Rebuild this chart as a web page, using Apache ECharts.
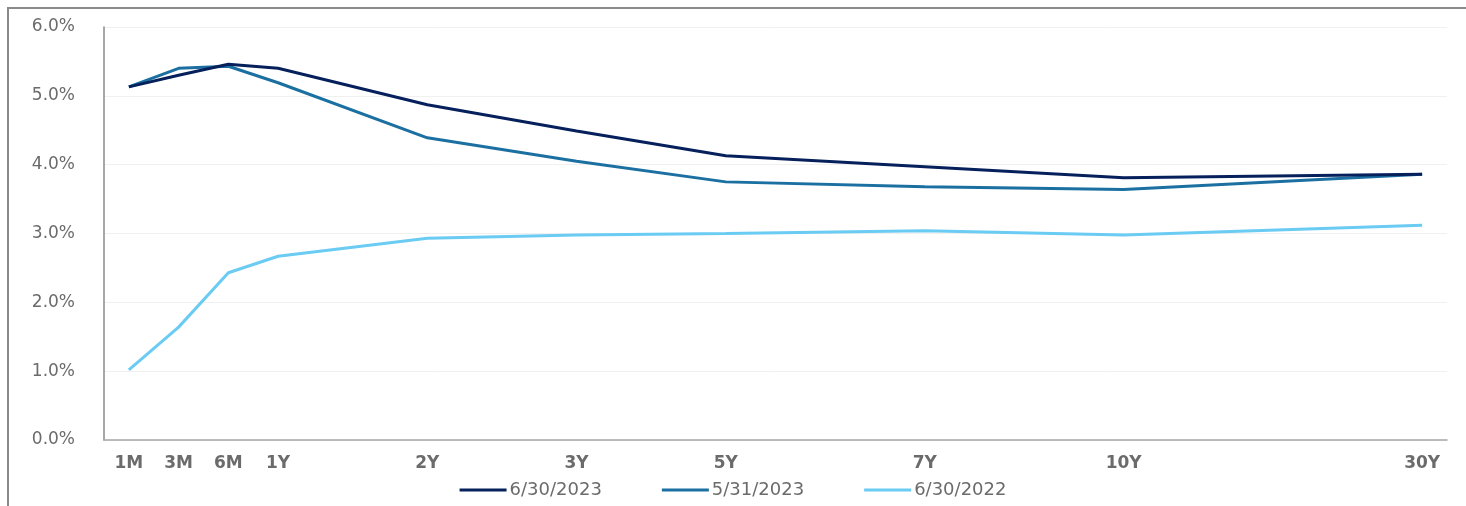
<!DOCTYPE html>
<html>
<head>
<meta charset="utf-8">
<script src="https://cdn.jsdelivr.net/npm/echarts@6/dist/echarts.min.js"></script>
<style>
  html, body { margin: 0; padding: 0; background: #fff; }
  #frame { position: absolute; left: 7px; top: 7px; width: 1459px; height: 499px;
           border-left: 2px solid #8a8a8a; border-top: 2px solid #8a8a8a; box-sizing: border-box; }
  #chart { position: absolute; left: 0; top: 0; width: 1466px; height: 506px; }
</style>
</head>
<body>
<div id="frame"></div>
<div id="chart"></div>
<script>
// tenors and where they sit on the maturity axis (evenly spaced slots)
var tenors = ['1M', '3M', '6M', '1Y', '2Y', '3Y', '5Y', '7Y', '10Y', '30Y'];
var tenorSlots = [0, 1, 2, 3, 6, 9, 12, 16, 20, 26];
var slotCount = 27;

var names = ['6/30/2023', '5/31/2023', '6/30/2022'];
var jun2023 = [5.13, 5.30, 5.46, 5.40, 4.87, 4.49, 4.13, 3.97, 3.81, 3.86];
var may2023 = [5.13, 5.40, 5.43, 5.19, 4.39, 4.05, 3.75, 3.68, 3.64, 3.86];
var jun2022 = [1.02, 1.64, 2.43, 2.67, 2.93, 2.98, 3.00, 3.04, 2.98, 3.12];
var colors = ['#06205c', '#1b70a1', '#6acbf3'];

var categories = [];
for (var i = 0; i < slotCount; i++) categories.push('');
tenorSlots.forEach(function (s, i) { categories[s] = tenors[i]; });

function toSlots(vals) {
    var out = [];
    for (var i = 0; i < slotCount; i++) out.push(null);
    tenorSlots.forEach(function (s, i) { out[s] = vals[i]; });
    return out;
}

var myChart = echarts.init(document.getElementById('chart'));
myChart.setOption({
    color: colors,
    animation: false,
    grid: { left: 104, right: 19, top: 27, bottom: 66 },
    legend: {
        bottom: 2,
        left: 'center',
        itemWidth: 47,
        itemHeight: 3,
        itemGap: 60,
        icon: 'rect',
        textStyle: { color: '#6b6b6b', fontSize: 18, fontFamily: 'DejaVu Sans', padding: [0, 0, 0, -2] },
        data: names
    },
    xAxis: {
        type: 'category',
        data: categories,
        boundaryGap: true,
        axisLine: { lineStyle: { color: '#a6a6a6', width: 1.5 } },
        axisTick: { show: false },
        axisLabel: {
            interval: 0,
            margin: 15,
            color: '#6b6b6b',
            fontSize: 17,
            fontWeight: 'bold',
            fontFamily: 'DejaVu Sans'
        },
        splitLine: { show: false }
    },
    yAxis: {
        type: 'value',
        min: 0,
        max: 6,
        interval: 1,
        axisLine: { show: true, lineStyle: { color: '#8a8a8a', width: 1.5 } },
        axisTick: { show: false },
        axisLabel: {
            margin: 29,
            color: '#6b6b6b',
            fontSize: 17,
            fontFamily: 'DejaVu Sans',
            formatter: function (v) { return v.toFixed(1) + '%'; }
        },
        splitLine: { lineStyle: { color: '#f0f0f0', width: 1 } }
    },
    series: [
        { name: names[0], type: 'line', data: toSlots(jun2023), connectNulls: true, symbol: 'none', lineStyle: { width: 3 }, z: 3 },
        { name: names[1], type: 'line', data: toSlots(may2023), connectNulls: true, symbol: 'none', lineStyle: { width: 3 }, z: 2 },
        { name: names[2], type: 'line', data: toSlots(jun2022), connectNulls: true, symbol: 'none', lineStyle: { width: 3 }, z: 1 }
    ]
});
</script>
</body>
</html>
